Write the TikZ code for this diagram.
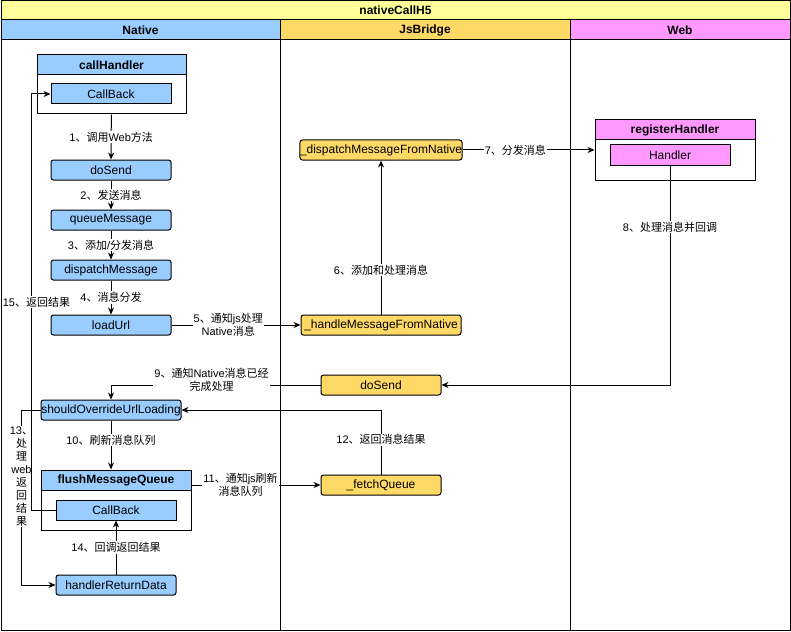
\documentclass[tikz,border=0pt]{standalone}
\usepackage{fontspec}
\setmainfont{Liberation Sans}
\newfontfamily\cjkfont{Noto Sans CJK SC}
\usetikzlibrary{arrows.meta}
\newcommand\zh[1]{{\cjkfont #1}}

\begin{document}
\begin{tikzpicture}[x=1pt, y=-1pt, line width=1pt,
    >={Stealth[length=7pt, width=6pt]},
    every node/.style={font=\fontsize{12}{14}\selectfont},
    rbox/.style={draw, rounded corners=2.5pt, minimum width=120pt, minimum height=20pt, inner xsep=0pt, inner ysep=0pt},
    sbox/.style={draw, minimum width=120pt, minimum height=20pt, inner xsep=0pt, inner ysep=0pt},
    frame/.style={draw, inner sep=0pt},
    head/.style={draw, minimum height=20pt, inner sep=0pt, font=\bfseries\fontsize{12}{14}\selectfont},
    lbl/.style={fill=white, inner sep=1pt, font=\fontsize{11}{13}\selectfont}]
  \definecolor{nat-blue}{HTML}{99CCFF}
  \definecolor{js-yellow}{HTML}{FFD966}
  \definecolor{web-pink}{HTML}{FF99FF}
  \definecolor{title-yellow}{HTML}{FFFF99}
  \useasboundingbox (0,0) rectangle (791,631);

  % pool and lanes
  \draw[fill=title-yellow] (1,1) rectangle (790,20);
  \draw[fill=nat-blue] (1,20) rectangle (280,40);
  \draw[fill=js-yellow] (280,20) rectangle (570,40);
  \draw[fill=web-pink] (570,20) rectangle (790,40);
  \draw (1,1) rectangle (790,630);
  \draw (280,40) -- (280,630);
  \draw (570,40) -- (570,630);
  \node[font=\bfseries\fontsize{12}{14}\selectfont] (title) at (395.5,10.5) {nativeCallH5};
  \node[font=\bfseries\fontsize{12}{14}\selectfont] (lane-native) at (140.5,30) {Native};
  \node[font=\bfseries\fontsize{12}{14}\selectfont] (lane-js) at (425,30) {JsBridge};
  \node[font=\bfseries\fontsize{12}{14}\selectfont] (lane-web) at (680,30) {Web};

  % Native
  \node[frame, minimum width=149pt, minimum height=59pt] (ch-box) at (111.5,84.5) {};
  \node[head, fill=nat-blue, minimum width=149pt] (ch-head) at (111.5,65) {callHandler};
  \node[sbox, fill=nat-blue] (cb-top) at (111,94) {CallBack};
  \node[rbox, fill=nat-blue] (do-send) at (111,170) {doSend};
  \node[rbox, fill=nat-blue] (queue-msg) at (111,220) {queueMessage};
  \node[rbox, fill=nat-blue] (dispatch-msg) at (111,270) {dispatchMessage};
  \node[rbox, fill=nat-blue] (load-url) at (111,325) {loadUrl};
  \node[rbox, fill=nat-blue, minimum width=140pt] (should) at (111,410) {shouldOverrideUrlLoading};
  \node[frame, minimum width=150pt, minimum height=60pt] (fq-box) at (116,500) {};
  \node[head, fill=nat-blue, minimum width=150pt] (fq-head) at (116,480) {flushMessageQueue};
  \node[sbox, fill=nat-blue] (cb-low) at (116,510) {CallBack};
  \node[rbox, fill=nat-blue] (hrd) at (116,585) {handlerReturnData};

  % JsBridge
  \node[rbox, fill=js-yellow, minimum width=160pt] (dispatch-fn) at (381,150) {\_dispatchMessageFromNative};
  \node[rbox, fill=js-yellow, minimum width=160pt] (handle-fn) at (381,325) {\_handleMessageFromNative};
  \node[rbox, fill=js-yellow] (do-send-js) at (381,385) {doSend};
  \node[rbox, fill=js-yellow] (fetch-q) at (381,485) {\_fetchQueue};

  % Web
  \node[frame, minimum width=160pt, minimum height=60pt] (reg-box) at (675,150) {};
  \node[head, fill=web-pink, minimum width=160pt, font=\fontsize{12}{14}\selectfont\bfseries] (reg-head) at (675,130) {registerHandler};
  \node[sbox, fill=web-pink] (handler) at (670,155) {Handler};

  % connectors
  \draw[->] (ch-box) -- node[lbl] {1\zh{、调用}Web\zh{方法}} (do-send);
  \draw[->] (do-send) -- node[lbl] {2\zh{、发送消息}} (queue-msg);
  \draw[->] (queue-msg) -- node[lbl] {3\zh{、添加}/\zh{分发消息}} (dispatch-msg);
  \draw[->] (dispatch-msg) -- node[lbl] {4\zh{、消息分发}} (load-url);
  \draw[->] (load-url) -- node[lbl, pos=0.44, align=center] {5\zh{、通知}js\zh{处理}\\Native\zh{消息}} (handle-fn);
  \draw[->] (handle-fn) -- node[lbl, pos=0.29] {6\zh{、添加和处理消息}} (dispatch-fn);
  \draw[->] (dispatch-fn) -- node[lbl, pos=0.4] {7\zh{、分发消息}} (reg-box);
  \draw[->] (handler) |- node[lbl, pos=0.14] {8\zh{、处理消息并回调}} (do-send-js);
  \draw[->] (do-send-js) -| node[lbl, pos=0.26, yshift=5pt, align=center] {9\zh{、通知}Native\zh{消息已经}\\\zh{完成处理}} (should);
  \draw[->] (should) -- node[lbl, pos=0.4] {10\zh{、刷新消息队列}} (should.south |- fq-head.north);
  \draw[->] (fq-head.east |- fetch-q) -- node[lbl, pos=0.38, align=center] {11\zh{、通知}js\zh{刷新}\\\zh{消息队列}} (fetch-q);
  \draw[->] (fetch-q) |- node[lbl, pos=0.27] {12\zh{、返回消息结果}} (should);
  \draw[->] (should.west) -- ++(-19,0) |- node[lbl, pos=0.19, align=center, font=\fontsize{11}{13}\selectfont] {13\zh{、}\\\zh{处}\\\zh{理}\\web\\\zh{返}\\\zh{回}\\\zh{结}\\\zh{果}} (hrd);
  \draw[->] (hrd) -- node[lbl] {14\zh{、回调返回结果}} (cb-low);
  \draw[->] (cb-low.west) -- ++(-24,0) |- node[lbl, pos=0.25, xshift=5pt] {15\zh{、返回结果}} (cb-top);
\end{tikzpicture}
\end{document}
